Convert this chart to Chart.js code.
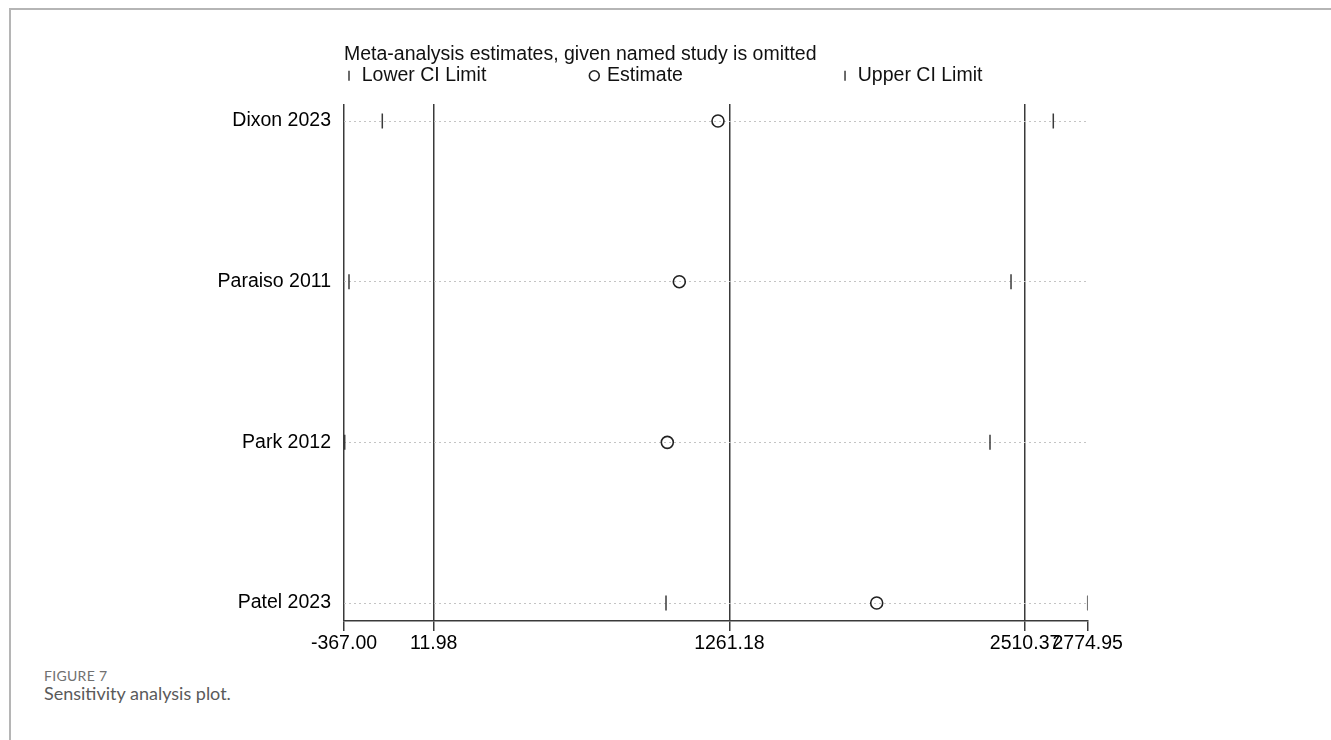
<!DOCTYPE html>
<html lang="en">
<head>
<meta charset="UTF-8">
<title>Sensitivity analysis plot</title>
<script src="https://cdn.jsdelivr.net/npm/chart.js"></script>
<style>
  html, body { margin: 0; padding: 0; background: #fff; }
  body { width: 1331px; height: 740px; position: relative; overflow: hidden; font-family: Lato, 'Noto Sans', sans-serif; }
  .frame { position: absolute; left: 9px; top: 8px; right: 0; bottom: 0; border-top: 2px solid #b5b5b5; border-left: 2px solid #b5b5b5; }
  .plot { position: absolute; left: 0; top: 0; width: 1331px; height: 660px; }
  .fig-label { position: absolute; left: 44px; top: 667px; font-size: 14px; color: #707070; letter-spacing: 0.3px; }
  .fig-caption { position: absolute; left: 44px; top: 682px; font-size: 18px; color: #5a5a5a; }
</style>
</head>
<body>
<div class="frame"></div>
<div class="plot"><canvas id="sensChart"></canvas></div>
<div class="fig-label">FIGURE 7</div>
<div class="fig-caption">Sensitivity analysis plot.</div>

<script>
  // values
  const studies = ['Dixon 2023', 'Paraiso 2011', 'Park 2012', 'Patel 2023'];
  const lowerCI = [-205.2, -345.9, -364.0, 993.4];
  const estimate = [1213.0, 1049.6, 998.9, 1883.5];
  const upperCI = [2629.6, 2451.0, 2362.2, 2774.95];
  const xTicks = [-367.00, 11.98, 1261.18, 2510.37, 2774.95];
  const legendLabels = ['Lower CI Limit', 'Estimate', 'Upper CI Limit'];
  const titleText = 'Meta-analysis estimates, given named study is omitted';

  const FONT = "'Liberation Sans', Arial, Helvetica, sans-serif";
  const INK = '#3a3a3a';
  const xMin = xTicks[0];
  const xMax = xTicks[xTicks.length - 1];
  const toPoints = vals => vals.map((v, i) => ({ x: v, y: i + 1 }));

  new Chart(document.getElementById('sensChart'), {
    type: 'scatter',
    data: {
      datasets: [
        {
          label: legendLabels[0], data: toPoints(lowerCI),
          pointStyle: 'line', pointRotation: 90, pointRadius: 7.5,
          pointBorderColor: INK, pointBorderWidth: 1.5, pointBackgroundColor: INK
        },
        {
          label: legendLabels[1], data: toPoints(estimate),
          pointStyle: 'circle', pointRadius: 6,
          pointBorderColor: '#222', pointBorderWidth: 1.6, pointBackgroundColor: 'rgba(0,0,0,0)'
        },
        {
          label: legendLabels[2], data: toPoints(upperCI),
          pointStyle: 'line', pointRotation: 90, pointRadius: 7.5,
          pointBorderColor: INK, pointBorderWidth: 1.5, pointBackgroundColor: INK
        }
      ]
    },
    options: {
      responsive: true,
      maintainAspectRatio: false,
      animation: false,
      layout: { padding: { left: 150, right: 243.3, top: 46, bottom: 3.6 } },
      plugins: {
        tooltip: { enabled: false },
        title: {
          display: true, fullSize: false, text: titleText, align: 'start', color: '#111', padding: 0,
          font: { family: FONT, size: 19.5, weight: 'normal', lineHeight: '18px' }
        },
        legend: {
          position: 'top', align: 'start', fullSize: false,
          labels: {
            usePointStyle: true, boxWidth: 6, boxHeight: 7, padding: 2,
            color: '#111', font: { family: FONT, size: 19.5 },
            // stata lays the keys out in equal columns, so widen the first two
            generateLabels: chart => {
              const items = Chart.defaults.plugins.legend.labels.generateLabels(chart);
              items[0].text += ' '.repeat(19);
              items[1].text += ' '.repeat(29);
              return items;
            }
          }
        }
      },
      scales: {
        x: {
          type: 'linear', min: xMin, max: xMax,
          afterBuildTicks: s => { s.ticks = xTicks.map(v => ({ value: v })); },
          ticks: {
            autoSkip: false, maxRotation: 0, minRotation: 0, padding: 1,
            color: '#000', font: { family: FONT, size: 19.5 },
            callback: v => Number(v).toFixed(2)
          },
          grid: {
            color: ctx => (ctx.tick && ctx.tick.value === xMax) ? 'rgba(0,0,0,0)' : INK,
            tickColor: INK, lineWidth: 1.5, tickLength: 10
          },
          border: { display: true, color: INK, width: 1.5 }
        },
        // empty top axis, only there to leave a gap under the legend
        gap: {
          type: 'linear', position: 'top', display: true,
          ticks: { display: false }, grid: { display: false }, border: { display: false },
          afterFit: s => { s.height = 8.5; }
        },
        y: {
          type: 'linear', reverse: true, min: 0.894, max: 4.112,
          afterBuildTicks: s => { s.ticks = studies.map((_, i) => ({ value: i + 1 })); },
          afterFit: s => { s.width = 194; },
          ticks: {
            padding: 13, color: '#000', font: { family: FONT, size: 19.5 },
            callback: v => studies[v - 1]
          },
          grid: { color: '#c4c4c4', lineWidth: 1, drawTicks: false },
          border: { display: false, dash: [2, 3] }
        }
      }
    }
  });
</script>
</body>
</html>
